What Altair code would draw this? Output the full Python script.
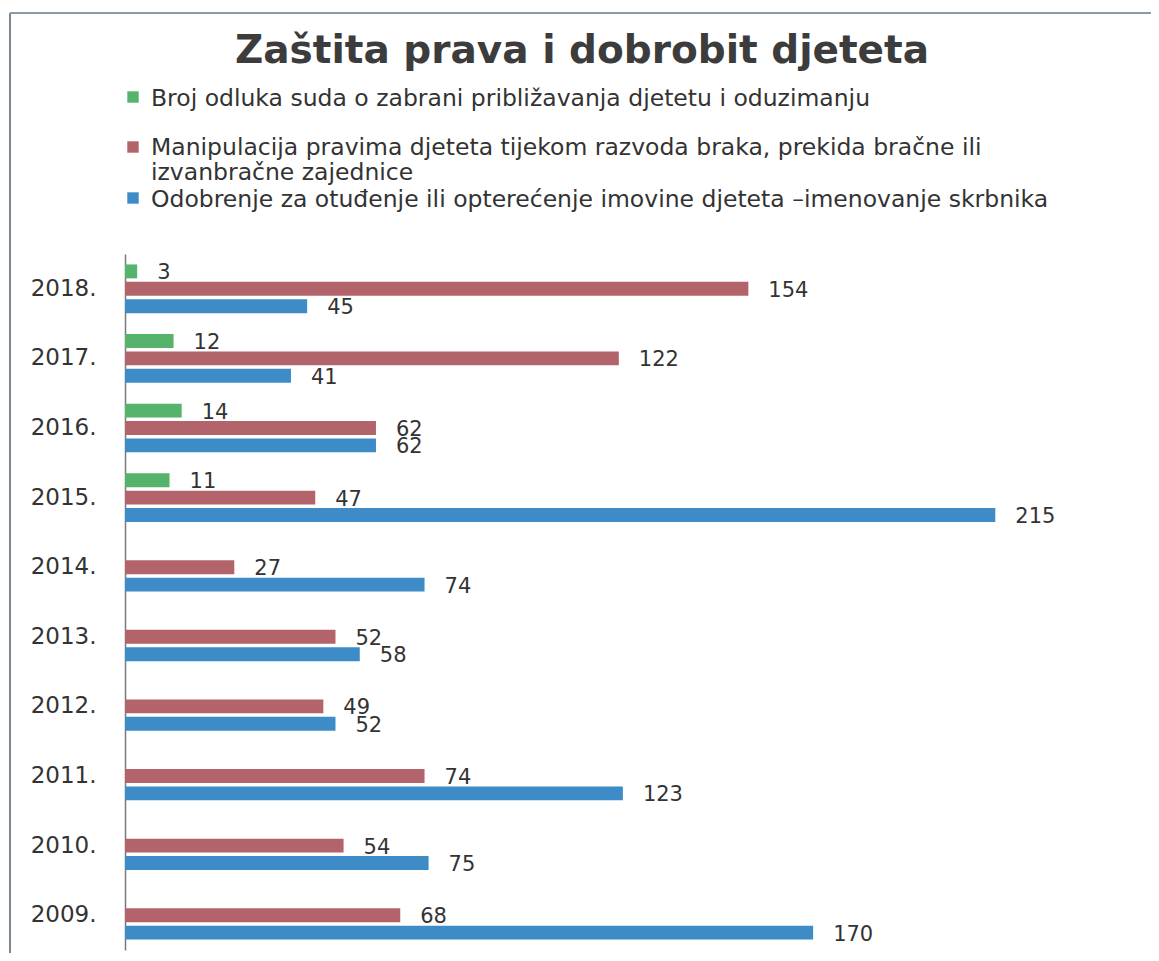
import altair as alt
import pandas as pd

# ---- data ----
years = [2018, 2017, 2016, 2015, 2014, 2013, 2012, 2011, 2010, 2009]
series = [
    "Broj odluka suda o zabrani približavanja djetetu i oduzimanju",
    "Manipulacija pravima djeteta tijekom razvoda braka, prekida bračne ili izvanbračne zajednice",
    "Odobrenje za otuđenje ili opterećenje imovine djeteta –imenovanje skrbnika",
]
legend_lines = [
    "Broj odluka suda o zabrani približavanja djetetu i oduzimanju",
    "Manipulacija pravima djeteta tijekom razvoda braka, prekida bračne ili\nizvanbračne zajednice",
    "Odobrenje za otuđenje ili opterećenje imovine djeteta –imenovanje skrbnika",
]
green_vals = [3, 12, 14, 11, None, None, None, None, None, None]
red_vals = [154, 122, 62, 47, 27, 52, 49, 74, 54, 68]
blue_vals = [45, 41, 62, 215, 74, 58, 52, 123, 75, 170]
colors = ["#55b36b", "#b3646b", "#3d8cc8"]
title_text = "Zaštita prava i dobrobit djeteta"

rows = []
for s, vals in zip(series, [green_vals, red_vals, blue_vals]):
    for y, v in zip(years, vals):
        if v is not None:
            rows.append({"year": y, "series": s, "value": v})
df = pd.DataFrame(rows)

FONT = "DejaVu Sans"
W, H = 931, 696

y_enc = alt.Y("year:O", sort=years, scale=alt.Scale(paddingInner=0, paddingOuter=0),
              axis=alt.Axis(title=None, ticks=False, grid=False, labelExpr="datum.label + '.'",
                            labelFont=FONT, labelFontSize=23, labelColor="#333333",
                            labelPadding=29, domainColor="#7a7a7a", domainWidth=1.5))
yoff = alt.YOffset("series:N", sort=series,
                   scale=alt.Scale(domain=series, paddingInner=0.2, paddingOuter=0.6))
x_enc = alt.X("value:Q", scale=alt.Scale(domain=[0, 230], nice=False), axis=None)

base = alt.Chart(df)
bars = base.mark_bar().encode(
    x=x_enc, y=y_enc, yOffset=yoff,
    color=alt.Color("series:N", scale=alt.Scale(domain=series, range=colors), legend=None),
)
labels = base.mark_text(align="left", baseline="middle", dx=20, dy=2, font=FONT,
                        fontSize=21, color="#333333").encode(
    x=x_enc, y=y_enc, yOffset=yoff, text="value:Q")

one = pd.DataFrame({"t": [title_text]})
title = alt.Chart(one).mark_text(font=FONT, fontSize=39, fontWeight="bold", color="#3c3c3c",
                                 align="center", baseline="alphabetic").encode(
    text="t:N", x=alt.value(457), y=alt.value(-191))

legend_layers = []
sq_y = [-157, -107, -56]
tx_y = [-148, -99, -47]
for i in range(3):
    d = pd.DataFrame({"series": [series[i]], "label": [legend_lines[i]]})
    sq = alt.Chart(d).mark_square(size=130, opacity=1).encode(
        x=alt.value(8), y=alt.value(sq_y[i]),
        color=alt.Color("series:N", scale=alt.Scale(domain=series, range=colors), legend=None))
    tx = alt.Chart(d).mark_text(align="left", baseline="alphabetic", font=FONT, fontSize=23.5,
                                color="#333333", lineBreak="\n", lineHeight=25).encode(
        x=alt.value(26), y=alt.value(tx_y[i]), text="label:N")
    legend_layers += [sq, tx]

frame_left = alt.Chart(one).mark_rule(color="#7d8790", strokeWidth=2).encode(
    x=alt.value(-115), y=alt.value(-241), y2=alt.value(710))
frame_top = alt.Chart(one).mark_rule(color="#8a9bab", strokeWidth=2).encode(
    x=alt.value(-115), x2=alt.value(1040), y=alt.value(-241))

chart = alt.layer(frame_left, frame_top, bars, labels, title, *legend_layers).properties(
    width=W, height=H,
    autosize=alt.AutoSizeParams(type="none"),
    padding={"left": 117, "top": 246, "right": 95, "bottom": 3},
).configure(background="white").configure_view(stroke=None)

chart.save("out.html", embed_options={"renderer": "svg", "actions": False})
